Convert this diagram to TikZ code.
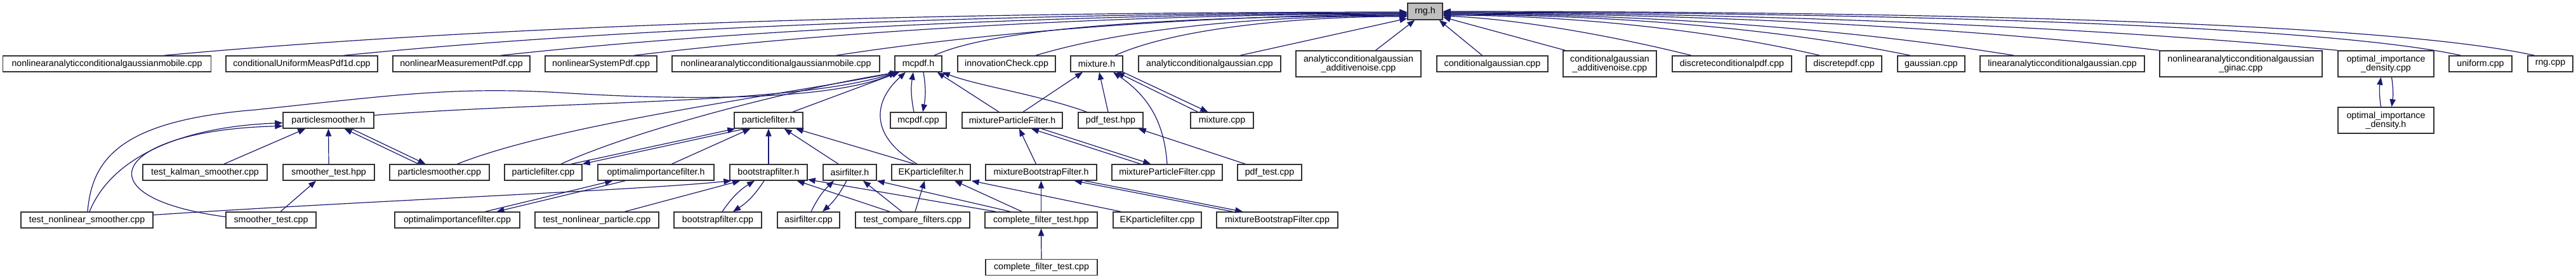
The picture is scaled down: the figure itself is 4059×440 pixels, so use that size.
\documentclass[tikz,border=0pt]{standalone}
\usepackage{fontspec}
\setmainfont{Liberation Sans}
\usetikzlibrary{arrows.meta,calc}
\definecolor{edgeblue}{HTML}{191970}
\definecolor{rootgray}{HTML}{BFBFBF}
\begin{document}
\begin{tikzpicture}[x=0.5pt,y=-0.5pt,
  file/.style={draw=black!80, line width=0.7pt, fill=white, rectangle, inner sep=0pt,
    minimum height=12.5pt, font=\fontsize{7.1}{7}\selectfont, align=center},
  twoline/.style={minimum height=20.5pt},
  dep/.style={draw=edgeblue, line width=0.6pt, -{Triangle[length=6pt,width=4.6pt]}},
]
\useasboundingbox (0,0) rectangle (4059,440);
% root
\node[file,fill=rootgray,minimum width=27.5pt,minimum height=13pt] (rng) at (2245.5,18) {rng.h};
% row 1
\node[file,minimum width=164pt]   (ncgm1)  at (168.5,100.5) {nonlinearanalyticconditionalgaussianmobile.cpp};
\node[file,minimum width=119.5pt] (cump)   at (475.5,100.5) {conditionalUniformMeasPdf1d.cpp};
\node[file,minimum width=108pt]   (nmp)    at (727,100.5)   {nonlinearMeasurementPdf.cpp};
\node[file,minimum width=88pt]    (nsp)    at (947,100.5)   {nonlinearSystemPdf.cpp};
\node[file,minimum width=163.5pt] (ncgm2)  at (1222.5,100.5){nonlinearanalyticconditionalgaussianmobile.cpp};
\node[file,minimum width=37pt]    (mcpdfh) at (1447,100.5)  {mcpdf.h};
\node[file,minimum width=77pt]    (innov)  at (1586,100.5)  {innovationCheck.cpp};
\node[file,minimum width=41pt]    (mixh)   at (1728,100.5)  {mixture.h};
\node[file,minimum width=112pt]   (acg)    at (1906,100.5)  {analyticconditionalgaussian.cpp};
\node[file,twoline,minimum width=98.5pt] (acgan) at (2140.5,100.5) {analyticconditionalgaussian\\\_additivenoise.cpp};
\node[file,minimum width=87.5pt]  (cg)     at (2351.5,100.5){conditionalgaussian.cpp};
\node[file,twoline,minimum width=73.5pt] (cgan) at (2536.5,100.5) {conditionalgaussian\\\_additivenoise.cpp};
\node[file,minimum width=94pt]    (dcp)    at (2729,100.5)  {discreteconditionalpdf.cpp};
\node[file,minimum width=59.5pt]  (dp)     at (2905.5,100.5){discretepdf.cpp};
\node[file,minimum width=53pt]    (gauss)  at (3043,100.5)  {gaussian.cpp};
\node[file,minimum width=129.5pt] (lacg)   at (3249.5,100.5){linearanalyticconditionalgaussian.cpp};
\node[file,twoline,minimum width=128pt] (ginac) at (3531,100.5) {nonlinearanalyticconditionalgaussian\\\_ginac.cpp};
\node[file,twoline,minimum width=75.5pt] (oidcpp) at (3759.5,100.5) {optimal\_importance\\\_density.cpp};
\node[file,minimum width=49.5pt]  (unif)   at (3908.5,100.5){uniform.cpp};
\node[file,minimum width=35.5pt]  (rngcpp) at (4018.5,100.5){rng.cpp};
% row 2
\node[file,minimum width=71.5pt]  (psh)      at (517.5,189.5) {particlesmoother.h};
\node[file,minimum width=54pt]    (pfh)      at (1211,189.5)  {particlefilter.h};
\node[file,minimum width=44pt]    (mcpdfcpp) at (1447,189.5)  {mcpdf.cpp};
\node[file,minimum width=79pt]    (mpfh)     at (1595,189.5)  {mixtureParticleFilter.h};
\node[file,minimum width=51pt]    (pdfhpp)   at (1750,189.5)  {pdf\_test.hpp};
\node[file,minimum width=49.5pt]  (mixcpp)   at (1925.5,189.5){mixture.cpp};
\node[file,twoline,minimum width=75.5pt] (oidh) at (3759.5,189.5) {optimal\_importance\\\_density.h};
% row 3
\node[file,minimum width=98pt]    (tks)    at (323,271.5)   {test\_kalman\_smoother.cpp};
\node[file,minimum width=72pt]    (sthpp)  at (518,271.5)   {smoother\_test.hpp};
\node[file,minimum width=78.5pt]  (pscpp)  at (692.5,271.5) {particlesmoother.cpp};
\node[file,minimum width=61pt]    (pfcpp)  at (856,271.5)   {particlefilter.cpp};
\node[file,minimum width=91.5pt]  (oifh)   at (1033.5,271.5){optimalimportancefilter.h};
\node[file,minimum width=61pt]    (bfh)    at (1211,271.5)  {bootstrapfilter.h};
\node[file,minimum width=42pt]    (asirh)  at (1339,271.5)  {asirfilter.h};
\node[file,minimum width=62pt]    (ekh)    at (1467,271.5)  {EKparticlefilter.h};
\node[file,minimum width=87.5pt]  (mbfh)   at (1640.5,271.5){mixtureBootstrapFilter.h};
\node[file,minimum width=87pt]    (mpfcpp) at (1839,271.5)  {mixtureParticleFilter.cpp};
\node[file,minimum width=50.5pt]  (pdfcpp) at (2000.5,271.5){pdf\_test.cpp};
% row 4
\node[file,minimum width=104pt]   (tns)     at (137,346.5)   {test\_nonlinear\_smoother.cpp};
\node[file,minimum width=71pt]    (stcpp)   at (427,346.5)   {smoother\_test.cpp};
\node[file,minimum width=98.5pt]  (oifcpp)  at (720.5,346.5) {optimalimportancefilter.cpp};
\node[file,minimum width=97.5pt]  (tnp)     at (940.5,346.5) {test\_nonlinear\_particle.cpp};
\node[file,minimum width=69pt]    (bfcpp)   at (1131,346.5)  {bootstrapfilter.cpp};
\node[file,minimum width=49pt]    (asircpp) at (1274,346.5)  {asirfilter.cpp};
\node[file,minimum width=90pt]    (tcf)     at (1438,346.5)  {test\_compare\_filters.cpp};
\node[file,minimum width=88.5pt]  (cfthpp)  at (1640.5,346.5){complete\_filter\_test.hpp};
\node[file,minimum width=69.5pt]  (ekcpp)   at (1823.5,346.5){EKparticlefilter.cpp};
\node[file,minimum width=95.5pt]  (mbfcpp)  at (2012.5,346.5){mixtureBootstrapFilter.cpp};
% row 5
\node[file,minimum width=88pt]    (cftcpp)  at (1641,421)    {complete\_filter\_test.cpp};

% ---- edges to rng.h (left)
\draw[dep] ($(ncgm1.north)+(90,0)$) .. controls +(600,-55) and +(-600,0) .. ($(rng.west)+(0,1)$);
\draw[dep] ($(cump.north)+(66,0)$) .. controls +(500,-50) and +(-500,0) .. ($(rng.west)+(0,2)$);
\draw[dep] ($(nmp.north)+(62,0)$) .. controls +(430,-47) and +(-430,0) .. ($(rng.west)+(0,3)$);
\draw[dep] ($(nsp.north)+(52,0)$) .. controls +(370,-45) and +(-370,0) .. ($(rng.west)+(0,4)$);
\draw[dep] ($(ncgm2.north)+(95,0)$) .. controls +(270,-42) and +(-270,0) .. ($(rng.west)+(0,5)$);
\draw[dep] ($(mcpdfh.north)+(25,0)$) .. controls +(110,-50) and +(-300,2) .. ($(rng.west)+(0,6)$);
\draw[dep] ($(innov.north)+(46,0)$) .. controls +(150,-45) and +(-220,0) .. ($(rng.west)+(0,7)$);
\draw[dep] ($(mixh.north)+(29,0)$) .. controls +(100,-45) and +(-160,0) .. ($(rng.west)+(0,8)$);
\draw[dep] ($(acg.north)+(48,0)$) -- ($(rng.west)+(0,11)$);
\draw[dep] ($(acgan.north)+(27,0)$) -- ($(rng.south west)+(12,0)$);
% ---- edges to rng.h (right)
\draw[dep] ($(cg.north)+(-16,0)$) -- ($(rng.south east)+(-6,0)$);
\draw[dep] ($(cgan.north)+(-70,0)$) -- ($(rng.east)+(0,9)$);
\draw[dep] ($(dcp.north)+(-64,0)$) .. controls +(-120,-30) and +(120,5) .. ($(rng.east)+(0,7)$);
\draw[dep] ($(dp.north)+(-38,0)$) .. controls +(-170,-40) and +(200,0) .. ($(rng.east)+(0,6)$);
\draw[dep] ($(gauss.north)+(-33,0)$) .. controls +(-220,-45) and +(250,0) .. ($(rng.east)+(0,5)$);
\draw[dep] ($(lacg.north)+(-76,0)$) .. controls +(-280,-45) and +(300,0) .. ($(rng.east)+(0,4)$);
\draw[dep] (ginac.north west) .. controls +(-340,-40) and +(350,0) .. ($(rng.east)+(0,3)$);
\draw[dep] (oidcpp.north west) .. controls +(-420,-40) and +(450,0) .. ($(rng.east)+(0,2)$);
\draw[dep] ($(unif.north)+(-31,0)$) .. controls +(-250,-55) and +(500,0) .. ($(rng.east)+(0,1)$);
\draw[dep] ($(rngcpp.north)+(-25,0)$) .. controls +(-270,-60) and +(550,0) .. (rng.east);

% ---- edges to mcpdf.h
\draw[dep] ($(tns.north)+(1,0)$) .. controls (145,250) and (190,190) .. (402,173)
   .. controls (620,150) and (720,135) .. (900,147)
   .. controls (1150,162) and (1330,150) .. ($(mcpdfh.south west)+(3,0)$);
\draw[dep] ($(psh.east)+(0,-8)$) .. controls (900,158) and (1250,165) .. ($(mcpdfh.south west)+(4,0)$);
\draw[dep] ($(pscpp.north)+(28,0)$) .. controls (880,195) and (1230,150) .. ($(mcpdfh.south west)+(5,0)$);
\draw[dep] ($(pfcpp.north)+(28,0)$) .. controls (1000,205) and (1250,140) .. ($(mcpdfh.south west)+(6,0)$);
\draw[dep] ($(pfh.north)+(38,0)$) -- ($(mcpdfh.south west)+(8,0)$);
\draw[dep] ($(ekh.north)+(-22,0)$) .. controls (1370,215) and (1375,160) .. ($(mcpdfh.south)+(-20,0)$);
\draw[dep] ($(mcpdfcpp.north)+(-7,0)$) to[bend left=10] ($(mcpdfh.south)+(-8,0)$);
\draw[dep] ($(mcpdfh.south)+(8,0)$) to[bend left=10] ($(mcpdfcpp.north)+(7,0)$);
\draw[dep] ($(mpfh.north)+(-21,0)$) -- ($(mcpdfh.south east)+(-8,0)$);
\draw[dep] ($(pdfhpp.north west)+(14,0)$) .. controls (1640,150) and (1540,135) .. (mcpdfh.south east);

% ---- edges to particlesmoother.h
\draw[dep] ($(tns.north)+(4,0)$) .. controls (175,250) and (280,200) .. ($(psh.west)+(0,4)$);
\draw[dep] ($(stcpp.west)+(0,-5)$) .. controls (120,310) and (180,205) .. ($(psh.west)+(0,9)$);
\draw[dep] (sthpp.north) -- (psh.south);
\draw[dep] ($(tks.north)+(30,0)$) -- ($(psh.south west)+(36,0)$);
\draw[dep] ($(pscpp.north)+(-33,0)$) -- ($(psh.south east)+(-47,0)$);
\draw[dep] ($(psh.south east)+(-36,0)$) -- ($(pscpp.north)+(-22,0)$);
\draw[dep] ($(stcpp.north)+(15,0)$) -- ($(sthpp.south)+(-20,0)$);

% ---- edges to particlefilter.h
\draw[dep] ($(pfcpp.north)+(44,0)$) -- ($(pfh.south west)+(2,0)$);
\draw[dep] ($(pfh.south west)+(18,0)$) -- ($(pfcpp.north east)+(0,0)$);
\draw[dep] ($(oifh.north)+(25,0)$) -- ($(pfh.south west)+(26,0)$);
\draw[dep] (bfh.north) -- (pfh.south);
\draw[dep] ($(asirh.north)+(-18,0)$) -- ($(pfh.south east)+(-30,0)$);
\draw[dep] ($(ekh.north)+(-26,0)$) -- ($(pfh.south east)+(-12,0)$);

% ---- edges to optimalimportancefilter.h
\draw[dep] ($(oifcpp.north)+(44,0)$) -- ($(oifh.south west)+(24,0)$);
\draw[dep] ($(oifh.south west)+(44,0)$) -- ($(oifcpp.north)+(62,0)$);

% ---- edges to bootstrapfilter.h
\draw[dep] ($(tns.east)+(0,-8)$) .. controls (600,315) and (1000,300) .. ($(bfh.south west)+(3,0)$);
\draw[dep] ($(tnp.north)+(44,0)$) -- ($(bfh.south west)+(17,0)$);
\draw[dep] ($(bfcpp.north)+(7,0)$) to[bend left=12] ($(bfh.south)+(-22,0)$);
\draw[dep] ($(bfh.south)+(-7,0)$) to[bend left=12] ($(bfcpp.north)+(24,0)$);
\draw[dep] ($(tcf.north)+(-36,0)$) -- ($(bfh.south east)+(-17,0)$);
\draw[dep] ($(cfthpp.north west)+(18,0)$) -- ($(bfh.south east)+(0,-2)$);

% ---- edges to asirfilter.h
\draw[dep] ($(asircpp.north)+(4,0)$) to[bend left=10] ($(asirh.south)+(-25,0)$);
\draw[dep] ($(asirh.south)+(-5,0)$) to[bend left=10] ($(asircpp.north)+(22,0)$);
\draw[dep] ($(tcf.north)+(-17,0)$) -- ($(asirh.south)+(21,0)$);
\draw[dep] ($(cfthpp.north west)+(41,0)$) -- (asirh.south east);

% ---- edges to EKparticlefilter.h
\draw[dep] ($(tcf.north)+(4,0)$) -- ($(ekh.south)+(-10,0)$);
\draw[dep] ($(cfthpp.north west)+(59,0)$) -- ($(ekh.south)+(37,0)$);
\draw[dep] ($(ekcpp.north west)+(13,0)$) -- ($(ekh.south east)+(1,0)$);

% ---- mixtureBootstrapFilter.h, complete_filter_test.hpp
\draw[dep] (cfthpp.north) -- (mbfh.south);
\draw[dep] ($(mbfcpp.north west)+(26,0)$) -- ($(mbfh.south east)+(-36,0)$);
\draw[dep] ($(mbfh.south east)+(-20,0)$) -- ($(mbfcpp.north west)+(42,0)$);
\draw[dep] (cftcpp.north) -- (cfthpp.south);

% ---- mixtureParticleFilter.h
\draw[dep] ($(mbfh.north)+(-8,0)$) -- ($(mpfh.south)+(11,0)$);
\draw[dep] ($(mpfcpp.north west)+(46,0)$) -- ($(mpfh.south)+(30,0)$);
\draw[dep] ($(mpfh.south)+(46,0)$) -- ($(mpfcpp.north west)+(62,0)$);

% ---- mixture.h
\draw[dep] ($(mpfh.north)+(17,0)$) -- ($(mixh.south)+(-22,0)$);
\draw[dep] ($(pdfhpp.north)+(-4,0)$) -- ($(mixh.south)+(4,0)$);
\draw[dep] (mpfcpp.north) .. controls (1835,200) and (1815,155) .. ($(mixh.south)+(26,0)$);
\draw[dep] ($(mixcpp.north west)+(12,0)$) -- ($(mixh.south east)+(-10,0)$);
\draw[dep] ($(mixh.south east)+(0,0)$) -- ($(mixcpp.north west)+(28,0)$);

% ---- pdf_test.hpp
\draw[dep] ($(pdfcpp.north west)+(13,0)$) -- ($(pdfhpp.south east)+(-8,0)$);

% ---- optimal_importance_density
\draw[dep] ($(oidh.north)+(-8,0)$) to[bend left=8] ($(oidcpp.south)+(-8,0)$);
\draw[dep] ($(oidcpp.south)+(9,0)$) to[bend left=8] ($(oidh.north)+(9,0)$);
\end{tikzpicture}
\end{document}
